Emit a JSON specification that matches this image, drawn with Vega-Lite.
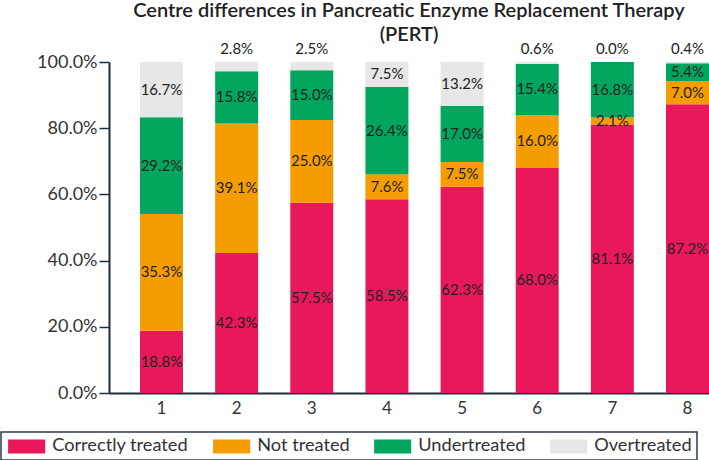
{
  "$schema": "https://vega.github.io/schema/vega-lite/v6.json",
  "width": 600,
  "height": 331,
  "autosize": {"type": "none"},
  "padding": {"left": 109, "top": 62, "right": 0, "bottom": 67},
  "background": "white",
  "config": {"font": "Lato", "view": {"stroke": null}},
  "title": {
    "text": ["Centre differences in Pancreatic Enzyme Replacement Therapy", "(PERT)"],
    "fontSize": 20,
    "fontWeight": 600,
    "color": "#222222",
    "lineHeight": 24,
    "frame": "group",
    "anchor": "middle",
    "offset": -3
  },
  "data": {
    "values": [
      {"centre": "1", "status": "Correctly treated", "pct": 18.8},
      {"centre": "1", "status": "Not treated", "pct": 35.3},
      {"centre": "1", "status": "Undertreated", "pct": 29.2},
      {"centre": "1", "status": "Overtreated", "pct": 16.7},
      {"centre": "2", "status": "Correctly treated", "pct": 42.3},
      {"centre": "2", "status": "Not treated", "pct": 39.1},
      {"centre": "2", "status": "Undertreated", "pct": 15.8},
      {"centre": "2", "status": "Overtreated", "pct": 2.8},
      {"centre": "3", "status": "Correctly treated", "pct": 57.5},
      {"centre": "3", "status": "Not treated", "pct": 25.0},
      {"centre": "3", "status": "Undertreated", "pct": 15.0},
      {"centre": "3", "status": "Overtreated", "pct": 2.5},
      {"centre": "4", "status": "Correctly treated", "pct": 58.5},
      {"centre": "4", "status": "Not treated", "pct": 7.6},
      {"centre": "4", "status": "Undertreated", "pct": 26.4},
      {"centre": "4", "status": "Overtreated", "pct": 7.5},
      {"centre": "5", "status": "Correctly treated", "pct": 62.3},
      {"centre": "5", "status": "Not treated", "pct": 7.5},
      {"centre": "5", "status": "Undertreated", "pct": 17.0},
      {"centre": "5", "status": "Overtreated", "pct": 13.2},
      {"centre": "6", "status": "Correctly treated", "pct": 68.0},
      {"centre": "6", "status": "Not treated", "pct": 16.0},
      {"centre": "6", "status": "Undertreated", "pct": 15.4},
      {"centre": "6", "status": "Overtreated", "pct": 0.6},
      {"centre": "7", "status": "Correctly treated", "pct": 81.1},
      {"centre": "7", "status": "Not treated", "pct": 2.1},
      {"centre": "7", "status": "Undertreated", "pct": 16.8},
      {"centre": "7", "status": "Overtreated", "pct": 0.0},
      {"centre": "8", "status": "Correctly treated", "pct": 87.2},
      {"centre": "8", "status": "Not treated", "pct": 7.0},
      {"centre": "8", "status": "Undertreated", "pct": 5.4},
      {"centre": "8", "status": "Overtreated", "pct": 0.4}
    ]
  },
  "transform": [
    {"calculate": "indexof(['Correctly treated','Not treated','Undertreated','Overtreated'], datum.status)", "as": "ord"},
    {"stack": "pct", "groupby": ["centre"], "sort": [{"field": "ord", "order": "ascending"}], "as": ["y0", "y1"]},
    {"calculate": "(datum.y0 + datum.y1) / 2", "as": "mid"},
    {"calculate": "format(datum.pct, '.1f') + '%'", "as": "label"}
  ],
  "layer": [
    {
      "mark": {"type": "bar"},
      "encoding": {
        "x": {
          "field": "centre",
          "type": "ordinal",
          "scale": {"range": [0, 631], "paddingInner": 0.428, "paddingOuter": 0.4126},
          "axis": {
            "title": null,
            "labelAngle": 0,
            "ticks": false,
            "labelFontSize": 17,
            "labelPadding": 7,
            "labelColor": "#333333",
            "domainColor": "#1d2d3d",
            "domainWidth": 2
          }
        },
        "y": {
          "field": "y0",
          "type": "quantitative",
          "scale": {"domain": [0, 100], "nice": false},
          "axis": {
            "title": null,
            "grid": false,
            "values": [0, 20, 40, 60, 80, 100],
            "labelExpr": "format(datum.value, '.1f') + '%'",
            "labelFontSize": 18,
            "labelColor": "#333333",
            "labelPadding": 2,
            "tickSize": 10,
            "tickColor": "#1d2d3d",
            "tickWidth": 1.5,
            "domainColor": "#1d2d3d",
            "domainWidth": 2
          }
        },
        "y2": {"field": "y1"},
        "color": {
          "field": "status",
          "type": "nominal",
          "scale": {
            "domain": ["Correctly treated", "Not treated", "Undertreated", "Overtreated"],
            "range": ["#E8185B", "#F59C00", "#00A65E", "#E7E7E7"]
          },
          "legend": {
            "title": null,
            "orient": "none",
            "direction": "horizontal",
            "columns": 4,
            "legendX": -108,
            "legendY": 370,
            "padding": 5,
            "strokeColor": "#2b3b4b",
            "symbolType": "M-1,-1H4.3V1H-1Z",
            "symbolSize": 196,
            "symbolStrokeWidth": 0,
            "symbolOpacity": 1,
            "labelFontSize": 18.2,
            "labelColor": "#333333",
            "labelOffset": 28,
            "columnPadding": 22,
            "encode": {"legend": {"update": {"strokeWidth": {"value": 1.5}}}}
          }
        }
      }
    },
    {
      "transform": [{"filter": "!(datum.status == 'Overtreated' && datum.pct < 5)"}],
      "mark": {"type": "text", "fontSize": 15, "color": "#222222", "baseline": "middle"},
      "encoding": {
        "x": {"field": "centre", "type": "ordinal"},
        "y": {"field": "mid", "type": "quantitative"},
        "text": {"field": "label", "type": "nominal"}
      }
    },
    {
      "transform": [{"filter": "datum.status == 'Overtreated' && datum.pct < 5"}],
      "mark": {"type": "text", "fontSize": 15, "color": "#222222", "baseline": "bottom", "dy": -5},
      "encoding": {
        "x": {"field": "centre", "type": "ordinal"},
        "y": {"field": "y1", "type": "quantitative"},
        "text": {"field": "label", "type": "nominal"}
      }
    }
  ]
}
